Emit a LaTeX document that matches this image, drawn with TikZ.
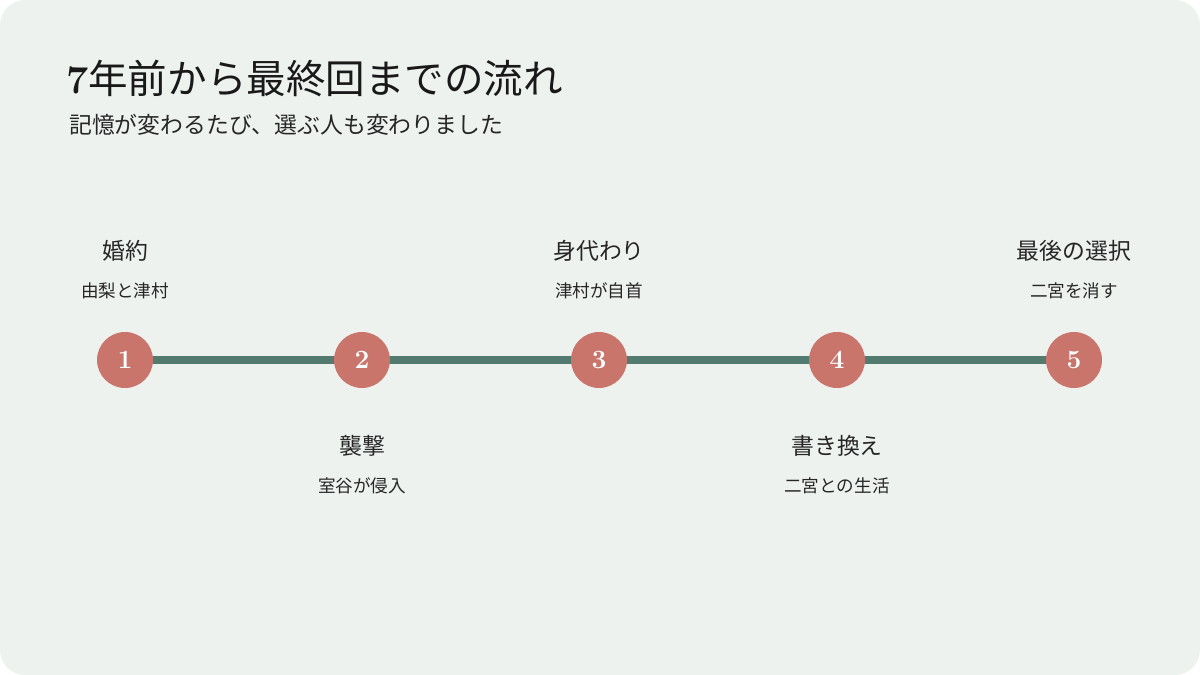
\documentclass[tikz,border=0pt]{standalone}
\usepackage{fontspec}
\newfontfamily\cjk{Noto Sans CJK JP}
\usetikzlibrary{positioning}
\definecolor{bgpanel}{HTML}{EDF2EF}
\definecolor{linegreen}{HTML}{527A6E}
\definecolor{dotred}{HTML}{C9756C}
\begin{document}
\begin{tikzpicture}[x=0.02cm,y=-0.02cm,
    stepdot/.style={circle, fill=dotred, minimum size=1.12cm, inner sep=0pt, text=white, font=\fontsize{15}{15}\selectfont\bfseries},
    steptitle/.style={font=\cjk\fontsize{13}{14}\selectfont, text=black!85},
    stepsub/.style={font=\cjk\fontsize{10}{11}\selectfont, text=black!85}]
        \useasboundingbox (0,0) rectangle (1200,675);
        \fill[bgpanel, rounded corners=0.5cm] (0,0) rectangle (1200,675);

        \node[anchor=west, font=\cjk\fontsize{22.5}{24}\selectfont, text=black!90] (title) at (60,78) {{\rmfamily\bfseries 7}年前から最終回までの流れ};
        \node[anchor=west, font=\cjk\fontsize{13}{14}\selectfont, text=black!85] (subtitle) at (63,125) {記憶が変わるたび、選ぶ人も変わりました};

        \draw[linegreen, line width=0.16cm] (125,360) -- (1074,360);

        \node[stepdot] (s1) at (125,360) {1};
        \node[stepdot] (s2) at (362,360) {2};
        \node[stepdot] (s3) at (599,360) {3};
        \node[stepdot] (s4) at (837,360) {4};
        \node[stepdot] (s5) at (1074,360) {5};

        \node[steptitle] (t1) at (125,251) {婚約};
        \node[stepsub] (u1) at (125,291) {由梨と津村};
        \node[steptitle] (t2) at (362,446) {襲撃};
        \node[stepsub] (u2) at (362,486) {室谷が侵入};
        \node[steptitle] (t3) at (599,251) {身代わり};
        \node[stepsub] (u3) at (599,291) {津村が自首};
        \node[steptitle] (t4) at (837,446) {書き換え};
        \node[stepsub] (u4) at (837,486) {二宮との生活};
        \node[steptitle] (t5) at (1074,251) {最後の選択};
        \node[stepsub] (u5) at (1074,291) {二宮を消す};
\end{tikzpicture}
\end{document}
